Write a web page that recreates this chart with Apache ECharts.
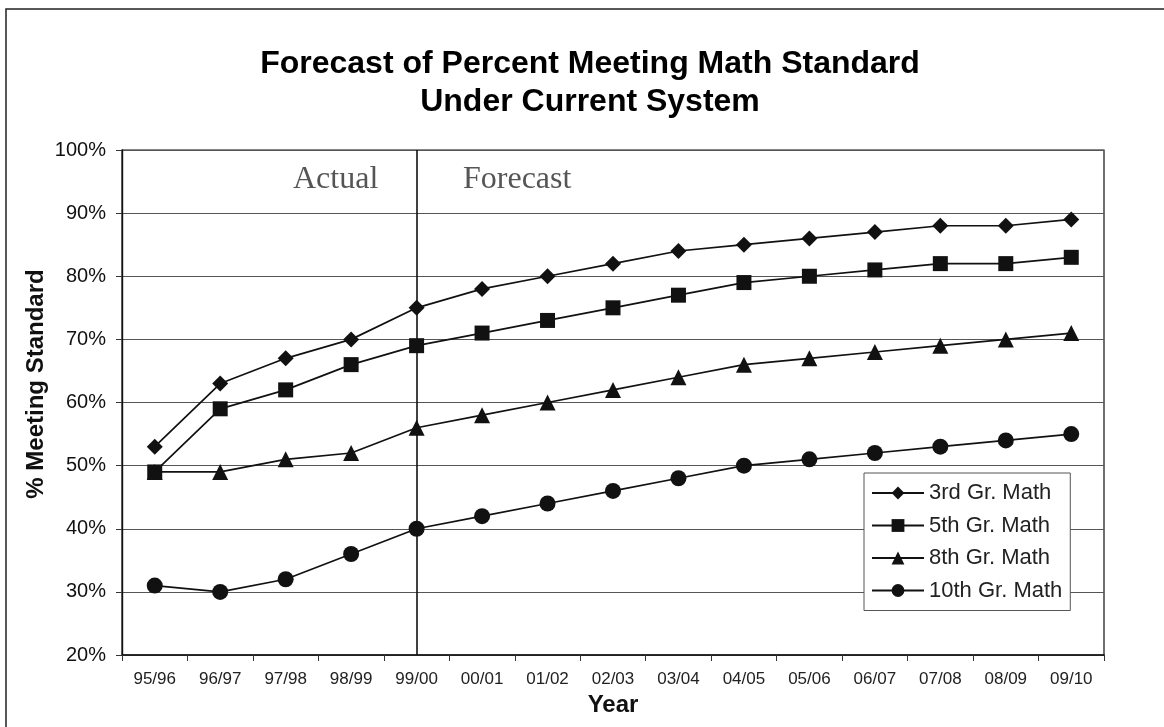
<!DOCTYPE html>
<html><head><meta charset="utf-8">
<script src="https://cdn.jsdelivr.net/npm/echarts@6/dist/echarts.min.js"></script>
<style>html,body{margin:0;padding:0;background:#fff}#c{width:1164px;height:727px}</style>
</head><body><div id="c"></div>
<script>
const years = ['95/96','96/97','97/98','98/99','99/00','00/01','01/02','02/03','03/04','04/05','05/06','06/07','07/08','08/09','09/10'];
const grade3 = [53,63,67,70,75,78,80,82,84,85,86,87,88,88,89];
const grade5 = [49,59,62,66,69,71,73,75,77,79,80,81,82,82,83];
const grade8 = [49,49,51,52,56,58,60,62,64,66,67,68,69,70,71];
const grade10 = [31,30,32,36,40,42,44,46,48,50,51,52,53,54,55];
const yTicks = [20,30,40,50,60,70,80,90,100];
const seriesNames = ['3rd Gr. Math','5th Gr. Math','8th Gr. Math','10th Gr. Math'];
const splitYear = '99/00';
const titleText = 'Forecast of Percent Meeting Math Standard\nUnder Current System';

const chart = echarts.init(document.getElementById('c'));
const mk = (name, data, symbol, size) => ({
  name, type:'line', data, symbol, symbolSize:size,
  itemStyle:{color:'#111'}, lineStyle:{color:'#111', width:1.7},
  z:5
});
const s3 = mk(seriesNames[0], grade3, 'diamond', 16);
s3.markLine = {silent:true, symbol:'none', label:{show:false},
  lineStyle:{color:'#111', width:1.6, type:'solid'},
  data:[{xAxis:splitYear}]};
chart.setOption({
  animation:false,
  backgroundColor:'#fff',
  grid:{left:122, right:60, top:150, bottom:72, show:true, borderColor:'#111', borderWidth:1.2, outerBoundsMode:'none', containLabel:false},
  legend:{data:seriesNames, orient:'vertical', left:864, top:473,
    padding:[9,8,9,7], itemWidth:52, itemHeight:16, itemGap:10.5,
    backgroundColor:'#fff', borderColor:'#555', borderWidth:1,
    textStyle:{fontFamily:'Liberation Sans', fontSize:22, lineHeight:20, color:'#222'}},
  xAxis:{type:'category', data:years, boundaryGap:true,
    name:'Year', nameLocation:'middle', nameGap:38,
    nameTextStyle:{fontFamily:'Liberation Sans', fontWeight:'bold', fontSize:24, color:'#111'},
    axisLine:{lineStyle:{color:'#111', width:1.6}},
    axisTick:{show:true, length:6, alignWithLabel:false, lineStyle:{color:'#333'}},
    axisLabel:{fontFamily:'Liberation Sans', fontSize:17, color:'#222', margin:16},
    splitLine:{show:false}},
  yAxis:{type:'value', min:20, max:100, interval:10,
    axisLine:{show:true, lineStyle:{color:'#111', width:1.4}},
    axisTick:{show:true, length:6, inside:false, lineStyle:{color:'#333'}},
    axisLabel:{fontFamily:'Liberation Sans', fontSize:20, color:'#111', margin:16,
      formatter:v => yTicks.includes(v) ? v + '%' : ''},
    splitLine:{show:true, lineStyle:{color:'#555', width:1}}},
  graphic:[
    {type:'rect', shape:{x:6, y:9, width:1300, height:900}, style:{fill:'none', stroke:'#222', lineWidth:1.5}, z:-10, silent:true},
    {type:'text', x:590, y:83,
      style:{text:titleText, font:'bold 32px "Liberation Sans"', lineHeight:38, fill:'#000', align:'center', verticalAlign:'middle'}, z:10},
    {type:'text', x:36, y:384, rotation:Math.PI/2,
      style:{text:'% Meeting Standard', font:'bold 24px "Liberation Sans"', fill:'#111', align:'center', verticalAlign:'middle'}, z:10},
    {type:'text', x:293, y:180, style:{text:'Actual', font:'32px "Liberation Serif"', fill:'#555', verticalAlign:'middle'}, z:10},
    {type:'text', x:463, y:180, style:{text:'Forecast', font:'32px "Liberation Serif"', fill:'#555', verticalAlign:'middle'}, z:10}
  ],
  series:[ s3,
    mk(seriesNames[1], grade5, 'rect', 15),
    mk(seriesNames[2], grade8, 'triangle', 16),
    mk(seriesNames[3], grade10, 'circle', 16)
  ]
});
</script></body></html>
